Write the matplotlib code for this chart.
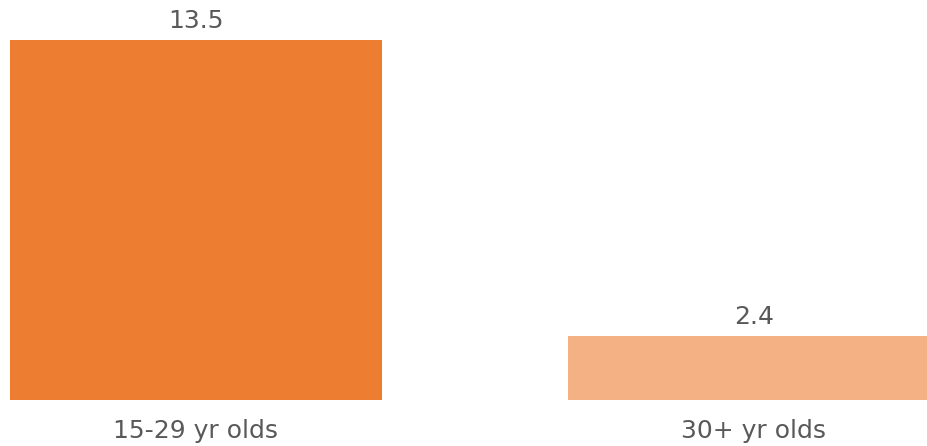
import matplotlib
matplotlib.use('Agg')
import matplotlib.pyplot as plt

categories = ['15-29 yr olds', '30+ yr olds']
values = [13.5, 2.4]
colors = ['#ED7D31', '#F4B183']

fig = plt.figure(figsize=(9.28, 4.46), dpi=100)
ax = fig.add_axes([0, 46 / 446, 1, 400 / 446])

x = range(len(categories))
bars = ax.bar(x, values, width=0.667, color=colors)
for b, v in zip(bars, values):
    ax.annotate(f'{v}', (b.get_x() + b.get_width() / 2, v), xytext=(0, 5),
                textcoords='offset points', ha='center', va='bottom',
                fontsize=18, color='#595959')

ax.set_xlim(-0.351, 1.312)
ax.set_ylim(0, 15.0)
ax.set_xticks(list(x))
ax.set_xticklabels(categories, fontsize=18, color='#595959')
ax.tick_params(axis='x', length=0, pad=14)
ax.set_yticks([])
for s in ax.spines.values():
    s.set_visible(False)

fig.savefig('out.png', dpi=100)
